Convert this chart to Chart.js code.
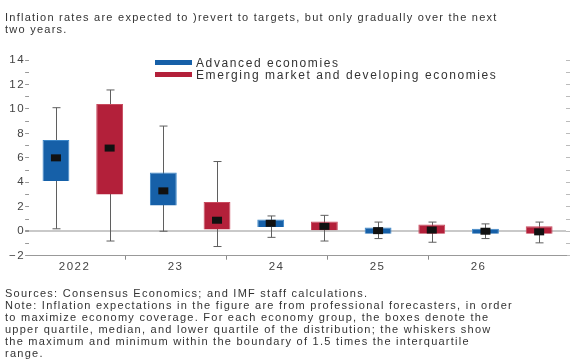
<!DOCTYPE html>
<html>
<head>
<meta charset="utf-8">
<script src="https://cdn.jsdelivr.net/npm/chart.js@4/dist/chart.umd.min.js"></script>
<style>
  html, body { margin: 0; padding: 0; background: #fff; }
  #wrap { position: relative; width: 571px; height: 361px; overflow: hidden;
          font-family: "Liberation Sans", Arial, Helvetica, sans-serif; color: #333; }
  #chart { position: absolute; left: 0; top: 0; }
  .txt { position: absolute; left: 5px; font-size: 11px; line-height: 12px;
         letter-spacing: 1.25px; white-space: nowrap; }
  #head { top: 11px; color: #333; }
  #foot { top: 287px; color: #333; }
  #legend { position: absolute; left: 155px; top: 57px; font-size: 12px; color: #333;
            letter-spacing: 1.6px; }
  .item { position: relative; height: 12px; line-height: 12px; white-space: nowrap; }
  .swatch { display: inline-block; width: 37px; height: 5px; vertical-align: middle;
            margin-right: 4px; position: relative; top: -1px; }
</style>
</head>
<body>
<div id="wrap">
  <canvas id="chart" width="571" height="361"></canvas>
  <div id="head" class="txt">Inflation rates are expected to )revert to targets, but only gradually over the next<br>two years.</div>
  <div id="legend">
    <div class="item"><span class="swatch" style="background:#1660a8"></span>Advanced economies</div>
    <div class="item"><span class="swatch" style="background:#b3203a"></span>Emerging market and developing economies</div>
  </div>
  <div id="foot" class="txt">Sources: Consensus Economics; and IMF staff calculations.<br>Note: Inflation expectations in the figure are from professional forecasters, in order<br>to maximize economy coverage. For each economy group, the boxes denote the<br>upper quartile, median, and lower quartile of the distribution; the whiskers show<br>the maximum and minimum within the boundary of 1.5 times the interquartile<br>range.</div>
</div>
<script>
// Forecast years
const years = ['2022', '23', '24', '25', '26'];

// Advanced economies: whisker ends, quartiles and median (percent)
const aeMin = [0.2, 0.0, -0.5, -0.6, -0.6];
const aeQ1  = [4.1, 2.1, 0.35, -0.2, -0.2];
const aeMed = [6.0, 3.3, 0.65, 0.05, 0.0];
const aeQ3  = [7.45, 4.8, 0.95, 0.3, 0.2];
const aeMax = [10.1, 8.6, 1.25, 0.75, 0.6];

// Emerging market and developing economies
const emMin = [-0.8, -1.25, -0.8, -0.9, -0.95];
const emQ1  = [3.0, 0.15, 0.0, -0.2, -0.2];
const emMed = [6.8, 0.9, 0.4, 0.1, -0.05];
const emQ3  = [10.4, 2.4, 0.8, 0.55, 0.4];
const emMax = [11.55, 5.7, 1.3, 0.75, 0.75];

// Y-axis range and label step
const yMin = -2, yMax = 14, labelStep = 2;

// Year-label axis: label i sits at value i, tick marks fall between labels
const labelAxisMin = -0.45, labelAxisMax = 4.865;

const boxes = (q1, q3) => q1.map((v, i) => [v, q3[i]]);

// Whiskers go under the boxes, median markers on top
const boxPlotParts = {
  id: 'boxPlotParts',
  beforeUpdate(chart) { chart.ctx.letterSpacing = '1.5px'; },
  beforeDatasetsDraw(chart) {
    const ctx = chart.ctx, y = chart.scales.y;
    ctx.save();
    ctx.strokeStyle = '#5f5f5f';
    ctx.lineWidth = 1;
    chart.data.datasets.forEach((ds, di) => {
      const meta = chart.getDatasetMeta(di);
      meta.data.forEach((bar, i) => {
        const x = Math.round(bar.x) + 0.5;
        const top = y.getPixelForValue(ds.whiskerMax[i]);
        const bot = y.getPixelForValue(ds.whiskerMin[i]);
        ctx.beginPath();
        ctx.moveTo(x, top); ctx.lineTo(x, bot);
        ctx.moveTo(x - 4, top); ctx.lineTo(x + 4, top);
        ctx.moveTo(x - 4, bot); ctx.lineTo(x + 4, bot);
        ctx.stroke();
      });
    });
    ctx.restore();
  },
  afterDatasetsDraw(chart) {
    const ctx = chart.ctx, y = chart.scales.y;
    ctx.save();
    ctx.fillStyle = '#111';
    chart.data.datasets.forEach((ds, di) => {
      const meta = chart.getDatasetMeta(di);
      meta.data.forEach((bar, i) => {
        const py = y.getPixelForValue(ds.median[i]);
        ctx.fillRect(bar.x - 5, py - 3.5, 10, 7);
      });
    });
    ctx.restore();
  }
};

const tickFont = { family: '"Liberation Sans", Arial, sans-serif', size: 11.5 };

new Chart(document.getElementById('chart'), {
  type: 'bar',
  data: {
    labels: years,
    datasets: [
      { label: 'Advanced economies', data: boxes(aeQ1, aeQ3),
        backgroundColor: '#1660a8', borderColor: '#3b86c8', borderWidth: 1,
        whiskerMin: aeMin, whiskerMax: aeMax, median: aeMed },
      { label: 'Emerging market and developing economies', data: boxes(emQ1, emQ3),
        backgroundColor: '#b3203a', borderColor: '#c94a5e', borderWidth: 1,
        whiskerMin: emMin, whiskerMax: emMax, median: emMed }
    ]
  },
  options: {
    responsive: false,
    animation: false,
    devicePixelRatio: 1,
    categoryPercentage: 1.0,
    barPercentage: 0.5,
    layout: { padding: { left: 9, right: 1, top: 60, bottom: 87.5 } },
    plugins: { legend: { display: false }, tooltip: { enabled: false } },
    scales: {
      x: { display: false, offset: true },
      xt: {
        type: 'linear', position: 'bottom', weight: 1, offset: false,
        min: labelAxisMin, max: labelAxisMax,
        afterBuildTicks: s => { s.ticks = years.slice(1).map((_, i) => ({ value: i + 0.5 })); },
        grid: { offset: false, drawOnChartArea: false, tickLength: 4, tickColor: '#888' },
        border: { display: true, color: '#999', width: 1 },
        ticks: { display: false }
      },
      xl: {
        type: 'linear', position: 'bottom', weight: 2, offset: false,
        min: labelAxisMin, max: labelAxisMax,
        afterBuildTicks: s => { s.ticks = years.map((_, i) => ({ value: i })); },
        grid: { offset: false, display: false, drawTicks: false },
        border: { display: false },
        ticks: { font: tickFont, color: '#444', padding: 0, maxRotation: 0, autoSkip: false,
                 callback: (v, i) => years[i] }
      },
      y: {
        min: yMin, max: yMax,
        grid: {
          drawOnChartArea: true, tickLength: 4, tickColor: '#999',
          color: c => (c.tick && c.tick.value === 0 ? '#c9c9c9' : 'rgba(0,0,0,0)'),
          lineWidth: c => (c.tick && c.tick.value === 0 ? 2 : 1)
        },
        border: { display: false },
        ticks: {
          stepSize: 1, autoSkip: false, font: tickFont, color: '#444', padding: 0,
          callback: v => (v % labelStep === 0 ? (v < 0 ? '\u2212' + Math.abs(v) : String(v)) : '')
        }
      },
      y2: {
        position: 'right', min: yMin, max: yMax,
        grid: { drawOnChartArea: false, tickLength: 4, tickColor: '#bbb' },
        border: { display: false },
        ticks: { stepSize: 1, display: false }
      }
    }
  },
  plugins: [boxPlotParts]
});
</script>
</body>
</html>
